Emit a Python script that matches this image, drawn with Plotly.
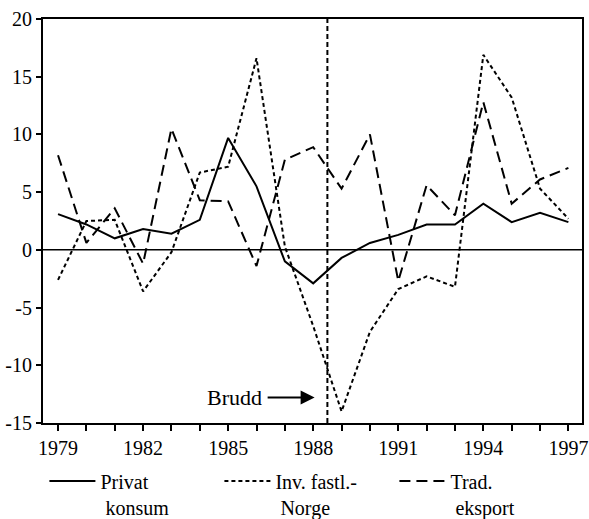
import plotly.graph_objects as go

years = list(range(1979, 1998))
privat_konsum = [3.1, 2.2, 1.0, 1.8, 1.4, 2.6, 9.7, 5.5, -1.0, -2.9, -0.7, 0.6, 1.3, 2.2, 2.2, 4.0, 2.4, 3.2, 2.4]
inv_fastl_norge = [-2.6, 2.5, 2.6, -3.6, -0.2, 6.7, 7.2, 16.6, 0.3, -6.6, -14.0, -7.1, -3.4, -2.3, -3.2, 16.9, 13.2, 5.3, 2.7]
trad_eksport = [8.2, 0.6, 3.6, -1.2, 10.5, 4.3, 4.2, -1.4, 7.8, 8.9, 5.3, 10.0, -2.7, 5.6, 3.0, 12.8, 4.0, 6.1, 7.1]

x_labels = ["1979", "1982", "1985", "1988", "1991", "1994", "1997"]
y_ticks = [-15, -10, -5, 0, 5, 10, 15, 20]
y_tick_labels = ["-15", "-10", "-5", "0", "5", "10", "15", "20"]
break_year = 1988.5
break_label = "Brudd"

FONT = "Liberation Serif, Times New Roman, serif"

fig = go.Figure()
fig.add_trace(go.Scatter(x=years, y=privat_konsum, mode="lines", name="Privat<br>&nbsp;konsum",
                         line=dict(color="black", width=2)))
fig.add_trace(go.Scatter(x=years, y=inv_fastl_norge, mode="lines", name="Inv. fastl.-<br>&nbsp;Norge",
                         line=dict(color="black", width=2, dash="4px,3px")))
fig.add_trace(go.Scatter(x=years, y=trad_eksport, mode="lines", name="Trad.<br>&nbsp;eksport",
                         line=dict(color="black", width=2, dash="11px,6px")))

# zero line and break line
fig.add_hline(y=0, line=dict(color="black", width=1.5), layer="below")
fig.add_vline(x=break_year, line=dict(color="black", width=2, dash="5px,3px"))

fig.add_annotation(x=1988.05, y=-12.8, xref="x", yref="y", text=break_label,
                   showarrow=True, arrowhead=2, arrowsize=1.4, arrowwidth=2, arrowcolor="black",
                   ax=-80, ay=0, borderpad=5, font=dict(family=FONT, size=22, color="black"))

tick_text = [str(y) if str(y) in x_labels else "" for y in years]

fig.update_xaxes(range=[1978.47, 1997.48], tickvals=years, ticktext=tick_text,
                 ticks="outside", ticklen=6, tickwidth=1.5, tickcolor="black",
                 showline=True, linecolor="black", linewidth=2, mirror=True,
                 showgrid=False, zeroline=False, automargin=False,
                 tickfont=dict(family=FONT, size=20, color="black"))
fig.update_yaxes(range=[-15, 20], tickvals=y_ticks, ticktext=y_tick_labels,
                 ticks="outside", ticklen=5, tickwidth=1.5, tickcolor="black",
                 showline=True, linecolor="black", linewidth=2, mirror=True,
                 showgrid=False, zeroline=False, automargin=False,
                 tickfont=dict(family=FONT, size=20, color="black"))

fig.update_layout(
    width=589, height=519,
    margin=dict(l=43, r=7, t=19, b=96),
    paper_bgcolor="white", plot_bgcolor="white",
    font=dict(family=FONT, size=20, color="black"),
    showlegend=True,
    legend=dict(orientation="h", xref="container", yref="container",
                x=0.0754, xanchor="left", y=0.111, yanchor="top",
                valign="top", font=dict(family=FONT, size=20, color="black"),
                itemwidth=46, entrywidth=114, entrywidthmode="pixels", tracegroupgap=0),
)

fig.write_html("out.html", config={"displayModeBar": False},
               post_script="document.body.style.margin='0px';")
